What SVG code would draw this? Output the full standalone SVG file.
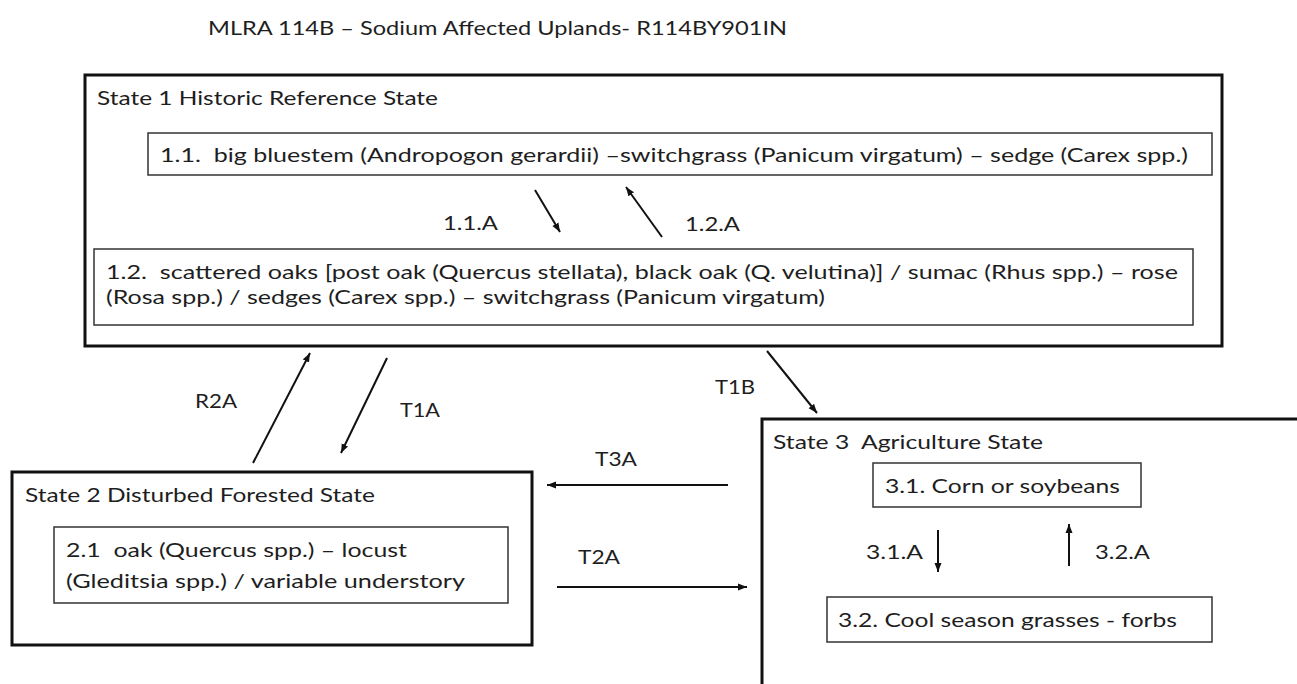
<svg xmlns="http://www.w3.org/2000/svg" width="1297" height="684" viewBox="0 0 1297 684" xml:space="preserve">
<style>
  text { font-family: Lato, "Liberation Sans", sans-serif; font-size: 20px; fill: #1e1e1e; white-space: pre; }
  .state { fill: #fff; stroke: #111; stroke-width: 3; }
  .phase { fill: #fff; stroke: #333; stroke-width: 1.5; }
  .arrow { stroke: #111; stroke-width: 2; fill: none; marker-end: url(#ah); }
</style>
<defs>
  <marker id="ah" markerUnits="userSpaceOnUse" markerWidth="10" markerHeight="8" refX="9" refY="4" orient="auto">
    <path d="M0,0.5 L9,4 L0,7.5 Z" fill="#111"/>
  </marker>
</defs>
<rect x="0" y="0" width="1297" height="684" fill="#fff"/>

<text id="title" x="208" y="35" textLength="579" lengthAdjust="spacingAndGlyphs">MLRA 114B – Sodium Affected Uplands- R114BY901IN</text>

<g id="state1">
  <rect class="state" x="85" y="75" width="1137" height="271"/>
  <text x="97" y="105" textLength="341" lengthAdjust="spacingAndGlyphs">State 1 Historic Reference State</text>
</g>
<g id="phase1-1">
  <rect class="phase" x="148" y="133" width="1064" height="42"/>
  <text x="160" y="162" textLength="1028" lengthAdjust="spacingAndGlyphs">1.1.  big bluestem (Andropogon gerardii) –switchgrass (Panicum virgatum) – sedge (Carex spp.)</text>
</g>
<g id="phase1-2">
  <rect class="phase" x="94" y="249" width="1099" height="76"/>
  <text x="106" y="279" textLength="1072" lengthAdjust="spacingAndGlyphs">1.2.  scattered oaks [post oak (Quercus stellata), black oak (Q. velutina)] / sumac (Rhus spp.) – rose</text>
  <text x="106" y="304" textLength="719" lengthAdjust="spacingAndGlyphs">(Rosa spp.) / sedges (Carex spp.) – switchgrass (Panicum virgatum)</text>
</g>

<g id="state2">
  <rect class="state" x="12" y="472" width="520" height="173"/>
  <text x="25" y="502" textLength="350" lengthAdjust="spacingAndGlyphs">State 2 Disturbed Forested State</text>
</g>
<g id="phase2-1">
  <rect class="phase" x="54" y="527" width="454" height="76"/>
  <text x="66" y="557" textLength="341" lengthAdjust="spacingAndGlyphs">2.1  oak (Quercus spp.) – locust</text>
  <text x="66" y="588" textLength="399" lengthAdjust="spacingAndGlyphs">(Gleditsia spp.) / variable understory</text>
</g>

<g id="state3">
  <rect class="state" x="762" y="419" width="600" height="400"/>
  <text x="773" y="449" textLength="270" lengthAdjust="spacingAndGlyphs">State 3  Agriculture State</text>
</g>
<g id="phase3-1">
  <rect class="phase" x="873" y="463" width="268" height="44"/>
  <text x="885" y="493" textLength="235" lengthAdjust="spacingAndGlyphs">3.1. Corn or soybeans</text>
</g>
<g id="phase3-2">
  <rect class="phase" x="827" y="597" width="385" height="45"/>
  <text x="838" y="627" textLength="339" lengthAdjust="spacingAndGlyphs">3.2. Cool season grasses - forbs</text>
</g>

<g id="connectors">
  <line class="arrow" x1="535" y1="190" x2="560" y2="232"/>
  <line class="arrow" x1="662" y1="237" x2="626" y2="187"/>
  <line class="arrow" x1="253" y1="463" x2="310" y2="353"/>
  <line class="arrow" x1="387" y1="358" x2="341" y2="453"/>
  <line class="arrow" x1="767" y1="351" x2="817" y2="413"/>
  <line class="arrow" x1="728" y1="485" x2="547" y2="485"/>
  <line class="arrow" x1="557" y1="587" x2="747" y2="587"/>
  <line class="arrow" x1="938" y1="530" x2="938" y2="572"/>
  <line class="arrow" x1="1069" y1="566" x2="1069" y2="524"/>
  <text x="443" y="230" textLength="55" lengthAdjust="spacingAndGlyphs">1.1.A</text>
  <text x="685" y="231" textLength="55" lengthAdjust="spacingAndGlyphs">1.2.A</text>
  <text x="195" y="408" textLength="42" lengthAdjust="spacingAndGlyphs">R2A</text>
  <text x="400" y="417" textLength="40" lengthAdjust="spacingAndGlyphs">T1A</text>
  <text x="715" y="394" textLength="40" lengthAdjust="spacingAndGlyphs">T1B</text>
  <text x="595" y="466" textLength="42" lengthAdjust="spacingAndGlyphs">T3A</text>
  <text x="578" y="564" textLength="42" lengthAdjust="spacingAndGlyphs">T2A</text>
  <text x="866" y="559" textLength="57" lengthAdjust="spacingAndGlyphs">3.1.A</text>
  <text x="1095" y="559" textLength="55" lengthAdjust="spacingAndGlyphs">3.2.A</text>
</g>
</svg>
